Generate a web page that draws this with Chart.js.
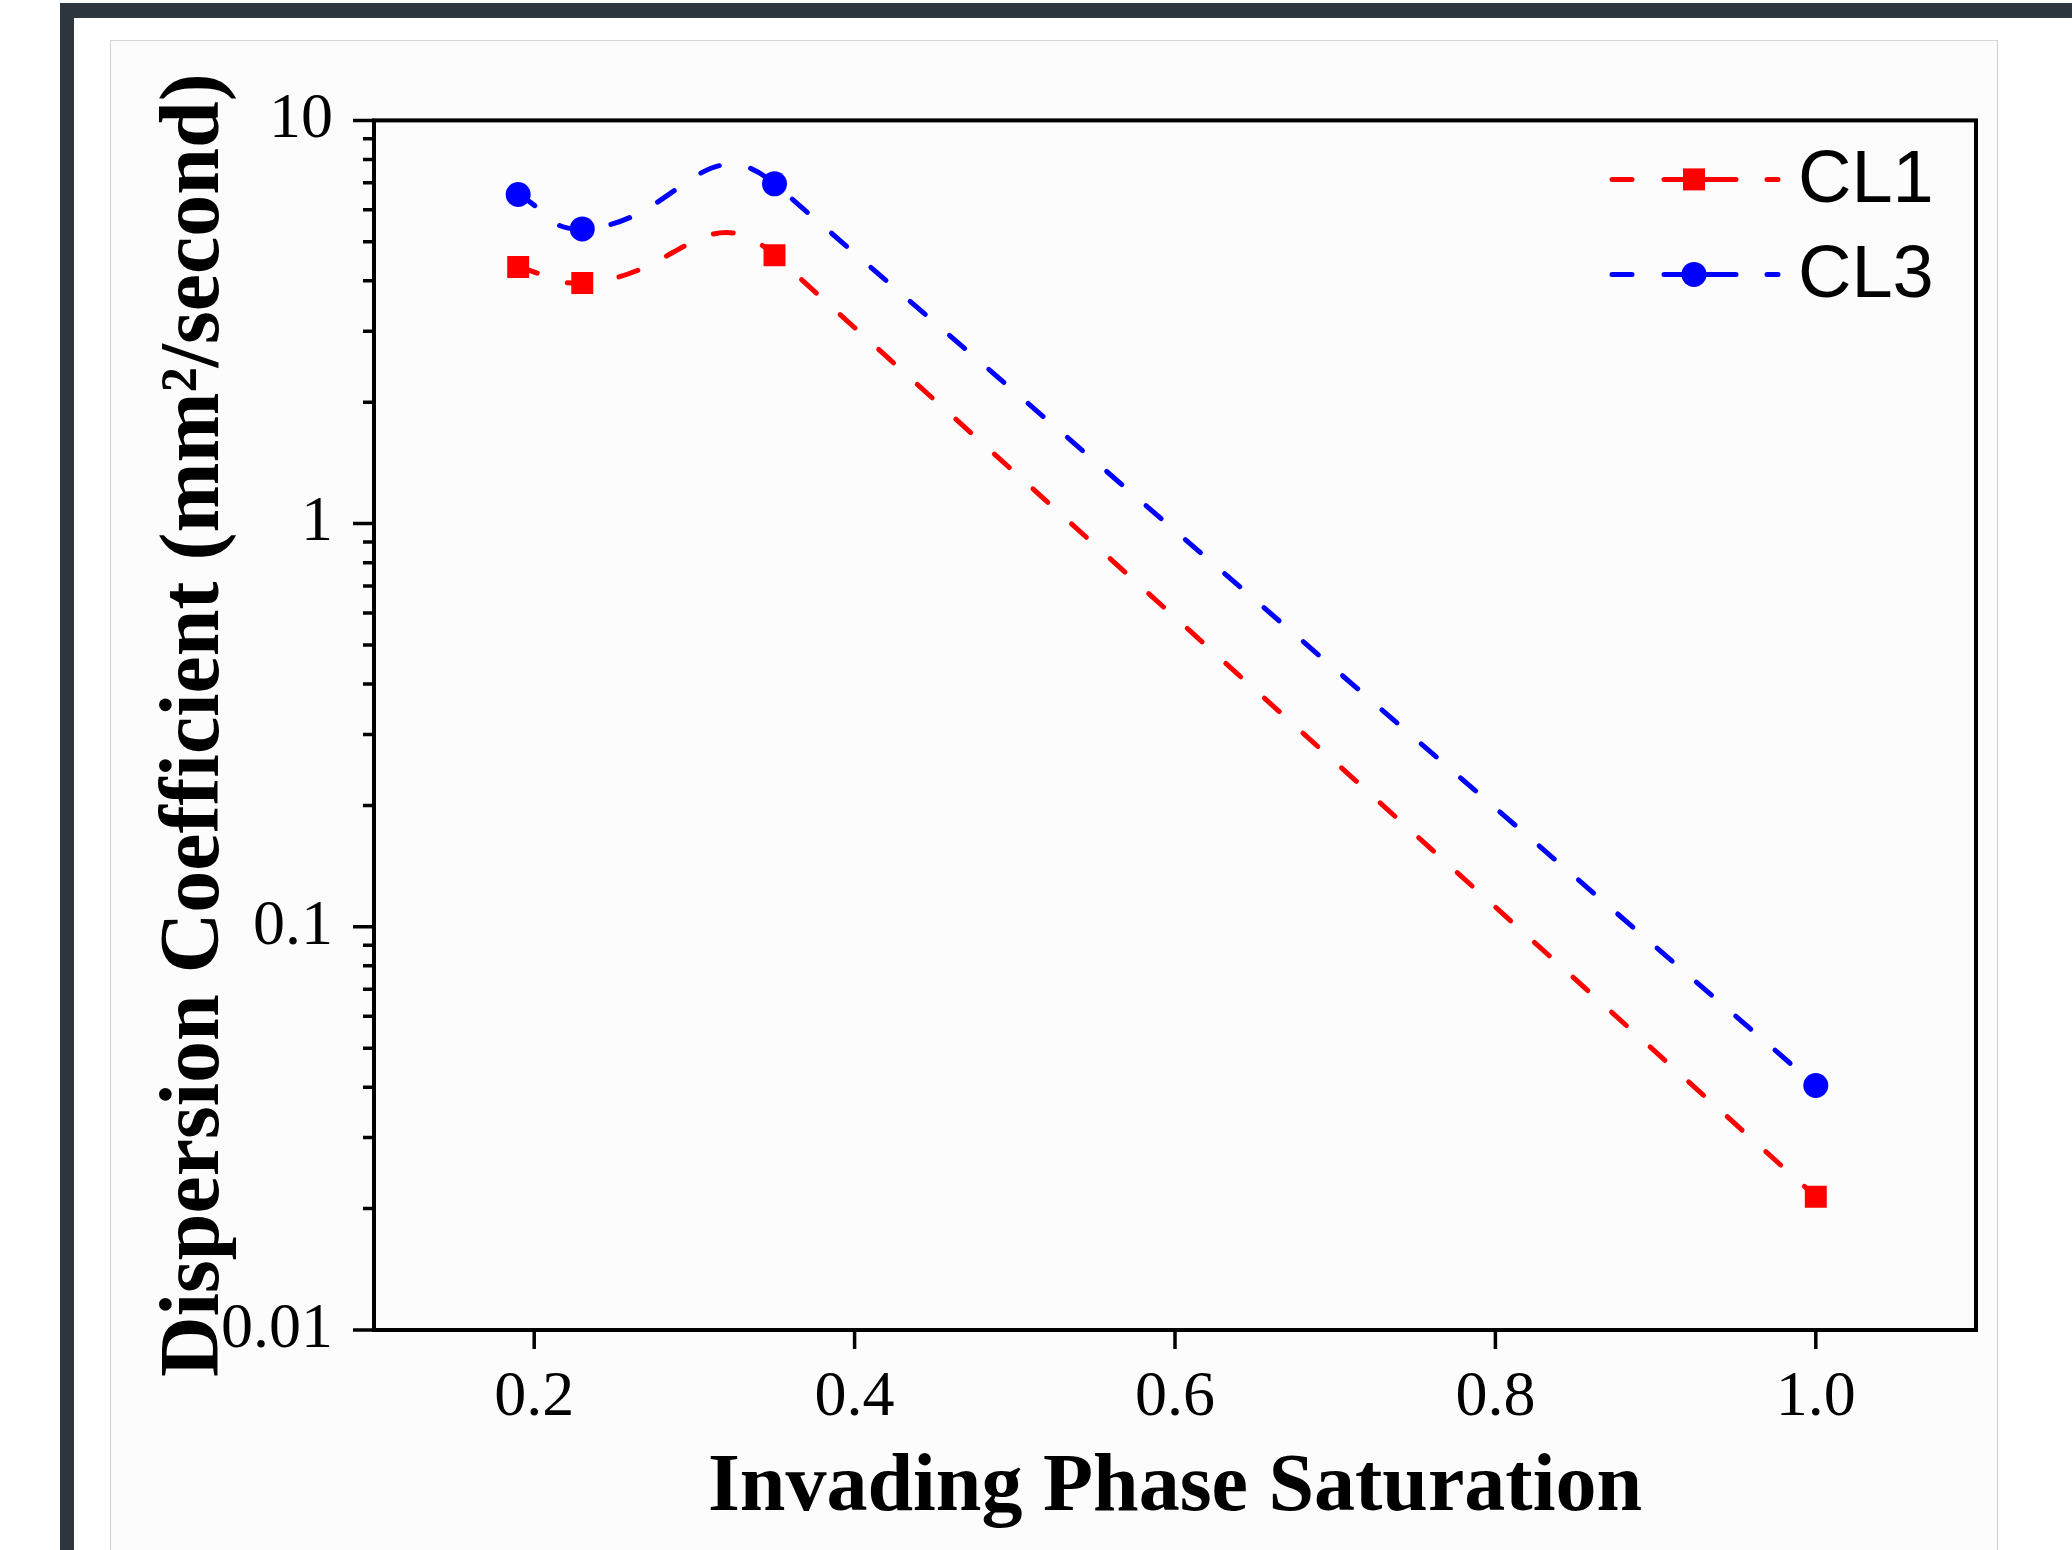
<!DOCTYPE html>
<html>
<head>
<meta charset="utf-8">
<script src="https://cdn.jsdelivr.net/npm/chart.js@4.4.1/dist/chart.umd.min.js"></script>
<style>
  html, body { margin: 0; padding: 0; background: #ffffff; }
  body { width: 2072px; height: 1550px; position: relative; overflow: hidden; }
  /* dark outer frame, cut off at the right and bottom edges */
  #frame {
    position: absolute; left: 60px; top: 3px; width: 2100px; height: 1600px;
    border-left: 14px solid #2e373d; border-top: 15px solid #2e373d;
    background: #ffffff;
  }
  /* light inner panel holding the chart */
  #panel {
    position: absolute; left: 110px; top: 40px; width: 1886px; height: 1560px;
    border-left: 1px solid #cfcfcf; border-top: 1px solid #d6d6d6; border-right: 1px solid #cfcfcf;
    background: #fcfcfc;
  }
  #chart { position: absolute; left: 0; top: 0; }
</style>
</head>
<body>
<div id="frame"></div>
<div id="panel">
  <canvas id="chart" width="1886" height="1510" style="width:1886px;height:1510px"></canvas>
</div>
<script>
// Data
const saturation = [0.19, 0.23, 0.35, 1.0];
const cl1Values = [4.33, 3.95, 4.63, 0.0214];
const cl3Values = [6.55, 5.38, 6.96, 0.0404];
const seriesNames = ['CL1', 'CL3'];

// Axis ticks
const xTicks = [0.2, 0.4, 0.6, 0.8, 1.0];
const yMajorTicks = [0.01, 0.1, 1, 10];

// every major tick plus 2..9 minor ticks inside each decade
const yAllTicks = [];
yMajorTicks.forEach((m, i) => {
    yAllTicks.push(m);
    if (i < yMajorTicks.length - 1) {
        for (let k = 2; k <= 9; k++) yAllTicks.push(+(m * k).toPrecision(3));
    }
});

Chart.defaults.font.family = '"Liberation Serif", "Times New Roman", serif';
Chart.defaults.color = '#000';

// The original spline runs almost straight over the long last stretch,
// so long segments get handles along their chord (keeps the tangent smooth at the joint)
const straightenPlugin = {
    id: 'straightenLongSegments',
    beforeDatasetDraw(chart, args) {
        const meta = args.meta;
        if (!meta.dataset || !meta.dataset.updateControlPoints) return;
        meta.dataset.updateControlPoints(chart.chartArea, meta.iScale.axis);
        const pts = meta.data;
        for (let i = 0; i < pts.length - 1; i++) {
            const a = pts[i], b = pts[i + 1];
            const dx = b.x - a.x, dy = b.y - a.y;
            const len = Math.hypot(dx, dy);
            if (len < 600) continue;
            const ux = dx / len, uy = dy / len;
            // incoming handle of a, same length, turned onto the chord
            const hIn = Math.hypot(a.x - a.cp1x, a.y - a.cp1y);
            a.cp1x = a.x - ux * hIn; a.cp1y = a.y - uy * hIn;
            a.cp2x = a.x + dx / 3; a.cp2y = a.y + dy / 3;
            b.cp1x = b.x - dx / 3; b.cp1y = b.y - dy / 3;
        }
    }
};

// Frame, tick marks and the line+marker legend
const framePlugin = {
    id: 'framePlugin',
    afterDraw(chart) {
        const ctx = chart.ctx;
        const area = chart.chartArea;
        const xs = chart.scales.x;
        const ys = chart.scales.y;
        ctx.save();
        ctx.strokeStyle = '#000';
        ctx.lineWidth = 4;
        ctx.strokeRect(area.left, area.top, area.right - area.left, area.bottom - area.top);

        // y ticks, outward
        ctx.lineWidth = 3.5;
        ctx.beginPath();
        yAllTicks.forEach(v => {
            const py = ys.getPixelForValue(v);
            const len = yMajorTicks.includes(v) ? 21 : 11;
            ctx.moveTo(area.left - len, py);
            ctx.lineTo(area.left, py);
        });
        // x ticks, outward
        xTicks.forEach(v => {
            const px = xs.getPixelForValue(v);
            ctx.moveTo(px, area.bottom);
            ctx.lineTo(px, area.bottom + 19);
        });
        ctx.stroke();

        // legend
        const lineStart = area.right - 364;
        const lineEnd = area.right - 198;
        const markX = lineStart + 82;
        chart.data.datasets.forEach((ds, i) => {
            const rowY = area.top + 59 + i * 95;
            ctx.strokeStyle = ds.borderColor;
            ctx.lineWidth = 5;
            ctx.lineCap = 'round';
            ctx.setLineDash([20, 32, 72, 31, 11]);
            ctx.beginPath();
            ctx.moveTo(lineStart, rowY);
            ctx.lineTo(lineEnd, rowY);
            ctx.stroke();
            ctx.setLineDash([]);
            ctx.fillStyle = ds.pointBackgroundColor;
            ctx.beginPath();
            if (ds.pointStyle === 'rect') {
                ctx.rect(markX - 11, rowY - 11, 22, 22);
            } else {
                ctx.arc(markX, rowY, 12.5, 0, Math.PI * 2);
            }
            ctx.fill();
            ctx.fillStyle = '#000';
            ctx.font = '74px "Liberation Sans", Arial, sans-serif';
            ctx.textBaseline = 'middle';
            ctx.textAlign = 'left';
            ctx.fillText(ds.label, area.right - 178, rowY + 2);
        });
        ctx.restore();
    }
};

const ctx = document.getElementById('chart').getContext('2d');
new Chart(ctx, {
    type: 'line',
    data: {
        datasets: [{
            label: seriesNames[0],
            data: saturation.map((x, i) => ({ x: x, y: cl1Values[i] })),
            borderColor: '#ff0000',
            borderWidth: 5,
            borderDash: [20, 32],
            borderCapStyle: 'round',
            tension: 0.5,
            pointStyle: 'rect',
            pointRadius: 15.5,
            pointBackgroundColor: '#ff0000',
            pointBorderColor: '#ff0000',
            pointBorderWidth: 0
        }, {
            label: seriesNames[1],
            data: saturation.map((x, i) => ({ x: x, y: cl3Values[i] })),
            borderColor: '#0000ff',
            borderWidth: 5,
            borderDash: [20, 32],
            borderCapStyle: 'round',
            tension: 0.5,
            pointStyle: 'circle',
            pointRadius: 12.5,
            pointBackgroundColor: '#0000ff',
            pointBorderColor: '#0000ff',
            pointBorderWidth: 0
        }]
    },
    options: {
        responsive: false,
        animation: false,
        devicePixelRatio: 1,
        layout: { padding: { top: 76, right: 21, left: 0, bottom: 0 } },
        plugins: {
            legend: { display: false },
            tooltip: { enabled: false }
        },
        scales: {
            x: {
                type: 'linear',
                min: 0.1,
                max: 1.1,
                afterBuildTicks: scale => { scale.ticks = xTicks.map(v => ({ value: v })); },
                afterFit: scale => { scale.height = 221; },
                grid: { display: false, drawTicks: false },
                border: { display: false },
                ticks: {
                    autoSkip: false,
                    maxRotation: 0,
                    padding: 30,
                    font: { size: 64 },
                    color: '#000',
                    callback: v => v.toFixed(1)
                },
                title: {
                    display: true,
                    text: 'Invading Phase Saturation',
                    color: '#000',
                    font: { size: 82, weight: 'bold' },
                    padding: { top: 0, bottom: 13 }
                }
            },
            y: {
                type: 'logarithmic',
                min: 0.01,
                max: 10,
                afterBuildTicks: scale => { scale.ticks = yAllTicks.map(v => ({ value: v })); },
                afterFit: scale => { scale.width = 263; },
                grid: { display: false, drawTicks: false },
                border: { display: false },
                ticks: {
                    autoSkip: false,
                    padding: 41,
                    font: { size: 64 },
                    color: '#000',
                    callback: v => yMajorTicks.includes(v) ? String(v) : ''
                },
                title: {
                    display: true,
                    text: 'Dispersion Coefficient (mm²/second)',
                    color: '#000',
                    font: { size: 84, weight: 'bold' },
                    padding: { top: 35, bottom: 0 }
                }
            }
        }
    },
    plugins: [straightenPlugin, framePlugin]
});
</script>
</body>
</html>
